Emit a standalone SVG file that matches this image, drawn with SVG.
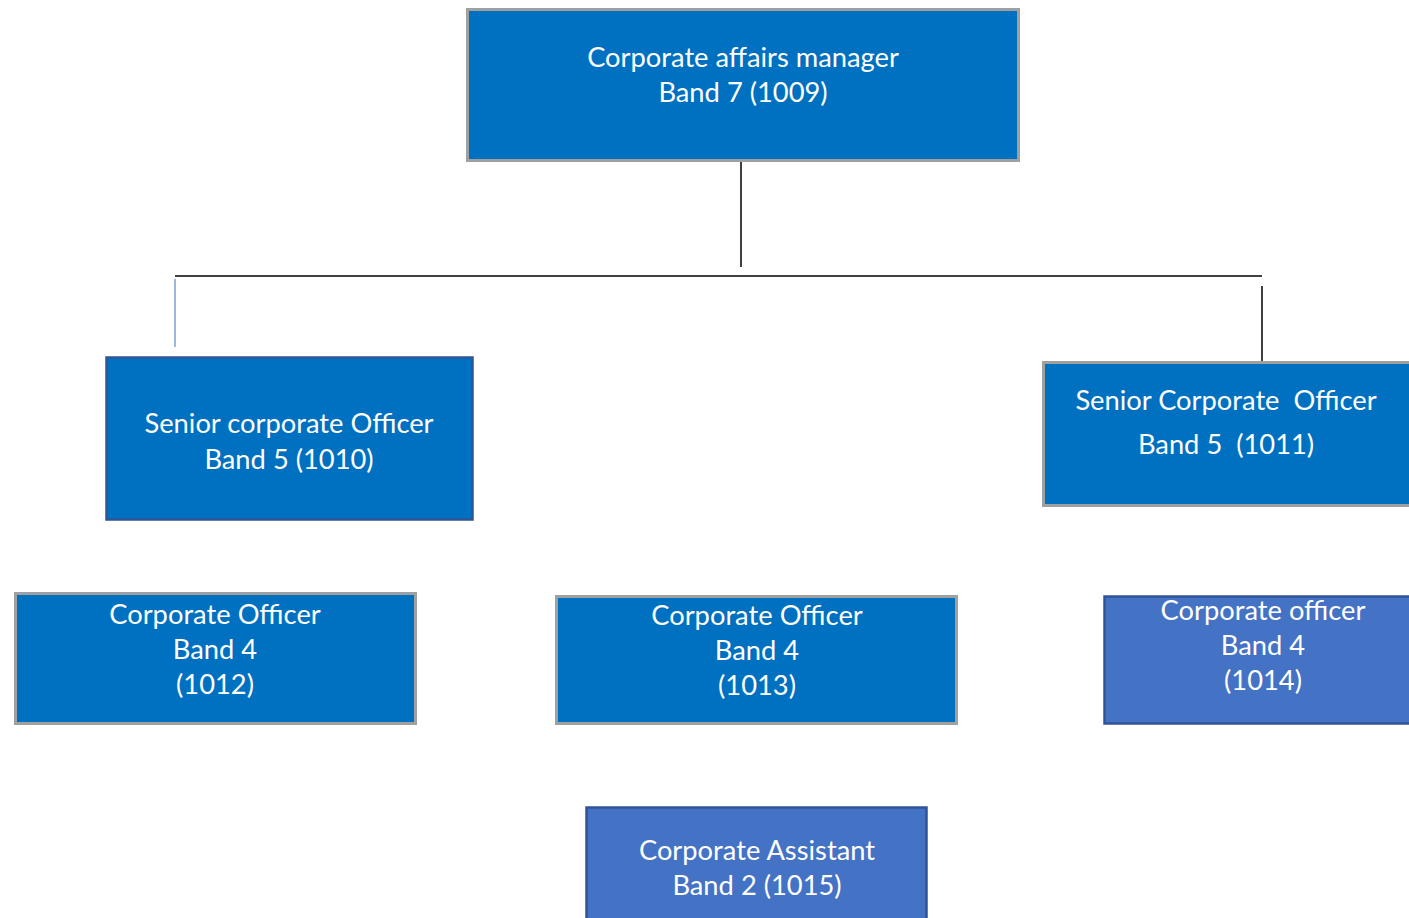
<svg xmlns="http://www.w3.org/2000/svg" width="1409" height="918" viewBox="0 0 1409 918">
<style>
.t{font-family:Lato,"Open Sans",sans-serif;font-size:27.3px;fill:#fff;text-anchor:middle;dominant-baseline:central}
.a{fill:#0070C0;stroke:#A0A0A0;stroke-width:3}
.b{fill:#0070C0;stroke:#2F5597;stroke-width:2.5}
.c{fill:#4472C4;stroke:#2F5597;stroke-width:2.5}
.l{stroke:#000;stroke-width:1.5;fill:none}
</style>
<rect width="1409" height="918" fill="#fff"/>
<g id="connectors">
<line class="l" x1="741" y1="162" x2="741" y2="267"/>
<line class="l" x1="175" y1="276" x2="1262" y2="276"/>
<line x1="175" y1="279" x2="175" y2="347" stroke="#7F9FD5" stroke-width="1.5"/>
<line class="l" x1="1262" y1="286" x2="1262" y2="361"/>
</g>
<g id="n1009"><rect class="a" x="467.5" y="9.5" width="551" height="151"/>
<text class="t" x="743" y="56">Corporate affairs manager</text><text class="t" x="743" y="91">Band 7 (1009)</text></g>
<g id="n1010"><rect class="b" x="106.5" y="357.5" width="366" height="162"/>
<text class="t" x="289" y="422">Senior corporate Officer</text><text class="t" x="289" y="458">Band 5 (1010)</text></g>
<g id="n1011"><rect class="a" x="1043.5" y="362.5" width="380" height="143"/>
<text class="t" x="1226" y="399" xml:space="preserve">Senior Corporate  Officer</text><text class="t" x="1226" y="443" xml:space="preserve">Band 5  (1011)</text></g>
<g id="n1012"><rect class="a" x="15.5" y="593.5" width="400" height="130"/>
<text class="t" x="215" y="613">Corporate Officer</text><text class="t" x="215" y="648">Band 4</text><text class="t" x="215" y="683">(1012)</text></g>
<g id="n1013"><rect class="a" x="556.5" y="596.5" width="400" height="127"/>
<text class="t" x="757" y="614">Corporate Officer</text><text class="t" x="757" y="649">Band 4</text><text class="t" x="757" y="684">(1013)</text></g>
<g id="n1014"><rect class="c" x="1104.5" y="596.5" width="320" height="127"/>
<text class="t" x="1263" y="609">Corporate officer</text><text class="t" x="1263" y="644">Band 4</text><text class="t" x="1263" y="679">(1014)</text></g>
<g id="n1015"><rect class="c" x="586.5" y="807.5" width="340" height="130"/>
<text class="t" x="757" y="849">Corporate Assistant</text><text class="t" x="757" y="884">Band 2 (1015)</text></g>
</svg>
